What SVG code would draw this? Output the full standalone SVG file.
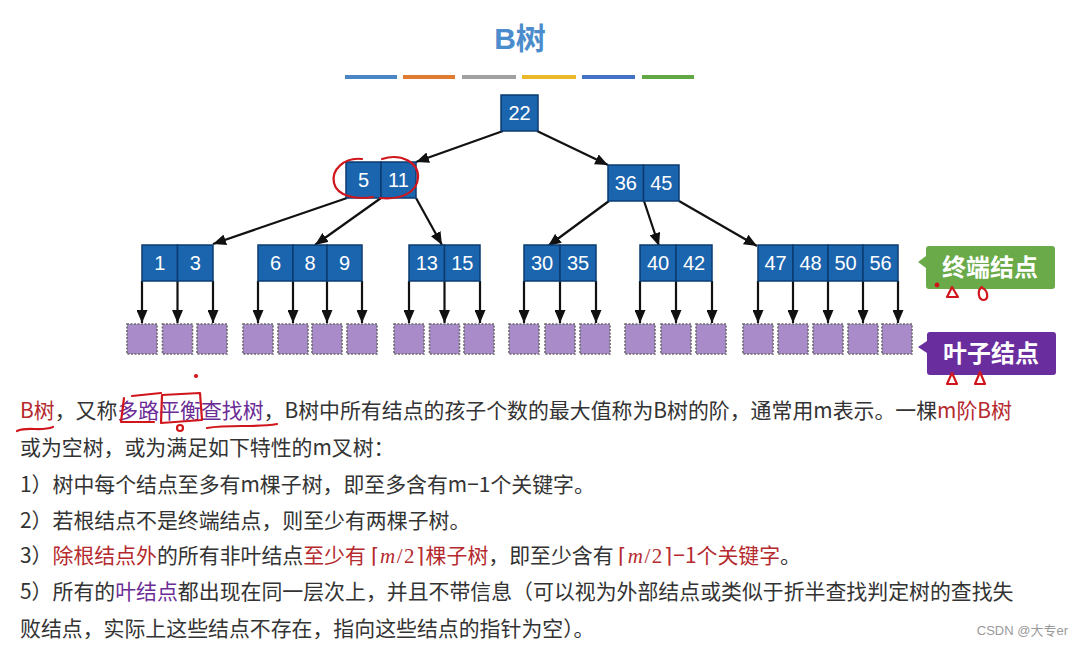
<svg xmlns="http://www.w3.org/2000/svg" width="1077" height="647" viewBox="0 0 1077 647">
<style>
.nd{fill:#1b64ae;stroke:#0c3b70;stroke-width:1.5}
.nt{fill:#fff;font-family:"Liberation Sans",Arial,sans-serif;font-size:20px;text-anchor:middle}
.lf{fill:#a98bca;stroke:#6a6a6a;stroke-width:1.6;stroke-dasharray:2 1.5}
.cn{stroke:#111;stroke-width:2.2;fill:none;marker-end:url(#ah)}
.tx{font-family:"Noto Sans CJK SC","Noto Sans",sans-serif;font-size:20.9px;fill:#333}
.r{fill:#b52a2e}
.p{fill:#6b2c96}
.mt{font-family:"Liberation Serif",serif;font-size:21px}
.ink{stroke:#d0161c;stroke-width:2.2;fill:none;stroke-linecap:round;stroke-linejoin:round}
.cl{font-family:"Noto Sans CJK SC",sans-serif;font-size:24px;font-weight:bold;fill:#fff;text-anchor:middle}
</style>
<defs>
<marker id="ah" markerUnits="userSpaceOnUse" markerWidth="13" markerHeight="11" refX="13" refY="5.5" orient="auto">
<path d="M0,0 L13,5.5 L0,11 z" fill="#111"/>
</marker>
</defs>
<rect width="1077" height="647" fill="#fff"/>

<!-- title -->
<text x="520" y="49" font-family="Liberation Sans,Arial,Noto Sans CJK SC,sans-serif" font-size="30" font-weight="bold" fill="#4a8ccc" text-anchor="middle">B树</text>
<g id="colorbar">
<rect x="345" y="75" width="52" height="4" fill="#4a86c5"/>
<rect x="403" y="75" width="52" height="4" fill="#e07b32"/>
<rect x="462" y="75" width="54" height="4" fill="#a0a0a0"/>
<rect x="522" y="75" width="54" height="4" fill="#e9b92a"/>
<rect x="582" y="75" width="53" height="4" fill="#4472c4"/>
<rect x="642" y="75" width="52" height="4" fill="#62a845"/>
</g>

<!-- connectors -->
<g id="connectors">
<line class="cn" x1="503" y1="131" x2="416" y2="162"/>
<line class="cn" x1="537" y1="131" x2="608" y2="165"/>
<line class="cn" x1="347" y1="198" x2="213" y2="244"/>
<line class="cn" x1="381" y1="198" x2="315" y2="245"/>
<line class="cn" x1="416" y1="198" x2="442" y2="245"/>
<line class="cn" x1="609" y1="201" x2="548" y2="246"/>
<line class="cn" x1="644" y1="201" x2="659" y2="246"/>
<line class="cn" x1="679" y1="201" x2="757" y2="246"/>
<line class="cn" x1="142" y1="281" x2="142" y2="323"/>
<line class="cn" x1="177.5" y1="281" x2="177.5" y2="323"/>
<line class="cn" x1="213" y1="281" x2="213" y2="323"/>
<line class="cn" x1="258" y1="281" x2="258" y2="323"/>
<line class="cn" x1="293" y1="281" x2="293" y2="323"/>
<line class="cn" x1="327" y1="281" x2="327" y2="323"/>
<line class="cn" x1="362" y1="281" x2="362" y2="323"/>
<line class="cn" x1="409" y1="281" x2="409" y2="323"/>
<line class="cn" x1="444.5" y1="281" x2="444.5" y2="323"/>
<line class="cn" x1="480" y1="281" x2="480" y2="323"/>
<line class="cn" x1="524" y1="281" x2="524" y2="323"/>
<line class="cn" x1="560" y1="281" x2="560" y2="323"/>
<line class="cn" x1="596" y1="281" x2="596" y2="323"/>
<line class="cn" x1="640" y1="281" x2="640" y2="323"/>
<line class="cn" x1="676" y1="281" x2="676" y2="323"/>
<line class="cn" x1="712" y1="281" x2="712" y2="323"/>
<line class="cn" x1="758" y1="281" x2="758" y2="323"/>
<line class="cn" x1="793" y1="281" x2="793" y2="323"/>
<line class="cn" x1="828" y1="281" x2="828" y2="323"/>
<line class="cn" x1="863" y1="281" x2="863" y2="323"/>
<line class="cn" x1="898" y1="281" x2="898" y2="323"/>
</g>

<!-- internal nodes -->
<g id="n22"><rect class="nd" x="501" y="95" width="37" height="36"/><text class="nt" x="519.5" y="120">22</text></g>
<g id="n5_11">
<rect class="nd" x="346" y="162" width="35" height="36"/><rect class="nd" x="381" y="162" width="35" height="36"/>
<text class="nt" x="363.5" y="187">5</text><text class="nt" x="398.5" y="187">11</text></g>
<g id="n36_45">
<rect class="nd" x="608" y="165" width="35.5" height="36"/><rect class="nd" x="643.5" y="165" width="35.5" height="36"/>
<text class="nt" x="625.8" y="190">36</text><text class="nt" x="661.3" y="190">45</text></g>
<g id="n1_3">
<rect class="nd" x="142" y="245" width="35.5" height="36"/><rect class="nd" x="177.5" y="245" width="35.5" height="36"/>
<text class="nt" x="159.8" y="270">1</text><text class="nt" x="195.3" y="270">3</text></g>
<g id="n6_8_9">
<rect class="nd" x="258" y="245" width="35" height="36"/><rect class="nd" x="293" y="245" width="34" height="36"/><rect class="nd" x="327" y="245" width="35" height="36"/>
<text class="nt" x="275.5" y="270">6</text><text class="nt" x="310" y="270">8</text><text class="nt" x="344.5" y="270">9</text></g>
<g id="n13_15">
<rect class="nd" x="409" y="245" width="35.5" height="36"/><rect class="nd" x="444.5" y="245" width="35.5" height="36"/>
<text class="nt" x="426.8" y="270">13</text><text class="nt" x="462.3" y="270">15</text></g>
<g id="n30_35">
<rect class="nd" x="524" y="245" width="36" height="36"/><rect class="nd" x="560" y="245" width="36" height="36"/>
<text class="nt" x="542" y="270">30</text><text class="nt" x="578" y="270">35</text></g>
<g id="n40_42">
<rect class="nd" x="640" y="245" width="36" height="36"/><rect class="nd" x="676" y="245" width="36" height="36"/>
<text class="nt" x="658" y="270">40</text><text class="nt" x="694" y="270">42</text></g>
<g id="n47_56">
<rect class="nd" x="758" y="245" width="35" height="36"/><rect class="nd" x="793" y="245" width="35" height="36"/><rect class="nd" x="828" y="245" width="35" height="36"/><rect class="nd" x="863" y="245" width="35" height="36"/>
<text class="nt" x="775.5" y="270">47</text><text class="nt" x="810.5" y="270">48</text><text class="nt" x="845.5" y="270">50</text><text class="nt" x="880.5" y="270">56</text></g>

<!-- leaf (external) nodes -->
<g id="leaves">
<rect class="lf" x="127" y="324" width="30" height="30"/>
<rect class="lf" x="162.5" y="324" width="30" height="30"/>
<rect class="lf" x="197" y="324" width="30" height="30"/>
<rect class="lf" x="243" y="324" width="30" height="30"/>
<rect class="lf" x="278" y="324" width="30" height="30"/>
<rect class="lf" x="312" y="324" width="30" height="30"/>
<rect class="lf" x="347" y="324" width="30" height="30"/>
<rect class="lf" x="394" y="324" width="30" height="30"/>
<rect class="lf" x="429.5" y="324" width="30" height="30"/>
<rect class="lf" x="464" y="324" width="30" height="30"/>
<rect class="lf" x="509" y="324" width="30" height="30"/>
<rect class="lf" x="545" y="324" width="30" height="30"/>
<rect class="lf" x="580" y="324" width="30" height="30"/>
<rect class="lf" x="625" y="324" width="30" height="30"/>
<rect class="lf" x="661" y="324" width="30" height="30"/>
<rect class="lf" x="696" y="324" width="30" height="30"/>
<rect class="lf" x="743" y="324" width="30" height="30"/>
<rect class="lf" x="778" y="324" width="30" height="30"/>
<rect class="lf" x="813" y="324" width="30" height="30"/>
<rect class="lf" x="848" y="324" width="30" height="30"/>
<rect class="lf" x="882" y="324" width="30" height="30"/>
</g>

<!-- callouts -->
<g id="label-terminal">
<path d="M929,246 H1052 Q1055,246 1055,249 V286 Q1055,289 1052,289 H929 Q926,289 926,286 V268 L918,262 L926,256 V249 Q926,246 929,246 Z" fill="#6aaa48"/>
<text class="cl" x="990" y="276">终端结点</text>
</g>
<g id="label-leaf">
<path d="M930,332 H1053 Q1056,332 1056,335 V372 Q1056,375 1053,375 H930 Q927,375 927,372 V353 L918,347 L927,341 V335 Q927,332 930,332 Z" fill="#6a2d9e"/>
<text class="cl" x="991" y="362">叶子结点</text>
</g>

<!-- body text -->
<g id="body" class="tx">
<text x="20" y="418"><tspan class="r">B树</tspan>，又称<tspan class="p">多路平衡查找树</tspan>，B树中所有结点的孩子个数的最大值称为B树的阶，通常用m表示。一棵<tspan class="r">m阶B树</tspan></text>
<text x="20" y="455">或为空树，或为满足如下特性的m叉树：</text>
<text x="20" y="492">1）树中每个结点至多有m棵子树，即至多含有m−1个关键字。</text>
<text x="20" y="528">2）若根结点不是终端结点，则至少有两棵子树。</text>
<text x="20" y="563">3）<tspan class="r">除根结点外</tspan>的所有非叶结点<tspan class="r">至少有 <tspan class="mt" letter-spacing="1.5">⌈<tspan font-style="italic">m</tspan>/2⌉</tspan>棵子树</tspan>，即至少含有 <tspan class="r"><tspan class="mt" letter-spacing="1.5">⌈<tspan font-style="italic">m</tspan>/2⌉</tspan>−1个关键字</tspan>。</text>
<text x="20" y="599">5）所有的<tspan class="p">叶结点</tspan>都出现在同一层次上，并且不带信息（可以视为外部结点或类似于折半查找判定树的查找失</text>
<text x="20" y="636">败结点，实际上这些结点不存在，指向这些结点的指针为空）。</text>
</g>
<text x="1068" y="635" font-family="Liberation Sans,Noto Sans CJK SC,sans-serif" font-size="13" fill="#9a9a9a" text-anchor="end">CSDN @大专er</text>

<!-- red handwritten marks -->
<g id="ink" class="ink">
<path d="M362,159 C344,157 331,170 334,183 C337,196 356,200 373,197"/>
<path d="M382,159 C401,153 419,162 418,178 C417,193 400,200 380,198"/>
<path d="M17,431 C28,426 40,432 53,427"/>
<path d="M132,396 L161,393 M124,398 L121,422 L154,422"/>
<path d="M161,423 L162,395 L200,393 L202,420 L161,423"/>
<circle cx="180" cy="428" r="3"/>
<path d="M207,428 C230,424 255,428 277,424"/>
<circle cx="196" cy="376" r="1" fill="#d0161c"/>
<circle cx="937" cy="285" r="1.3" fill="#d0161c"/>
<path d="M952,287 L947,297 L958,297 Z"/>
<path d="M982,287 C977,290 978,300 984,300 C989,299 988,290 982,288"/>
<path d="M952,373 L947,384 L957,384 Z"/>
<path d="M980,372 L975,384 L985,384 Z"/>
</g>
</svg>
